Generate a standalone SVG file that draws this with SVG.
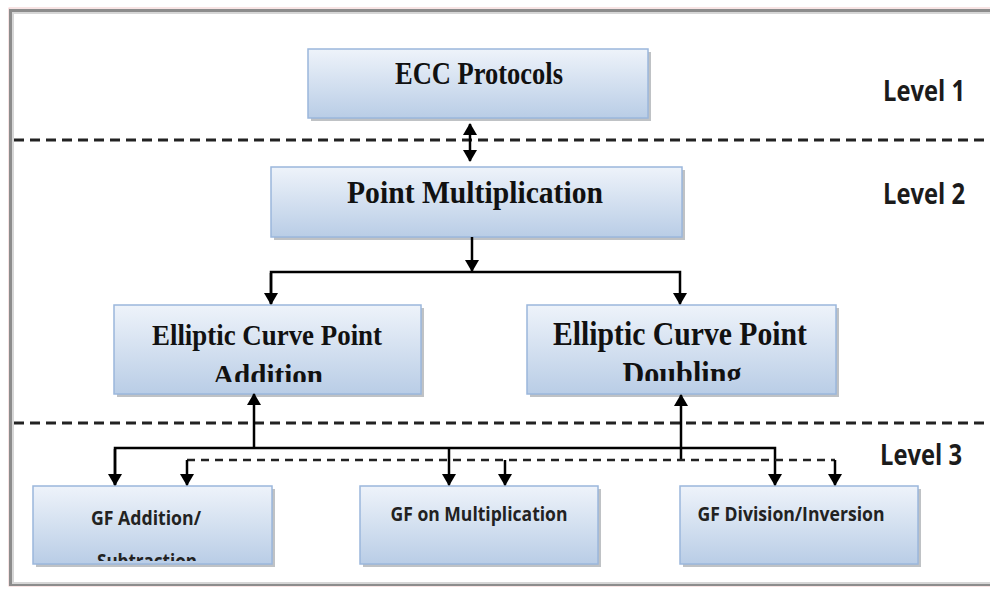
<svg xmlns="http://www.w3.org/2000/svg" width="990" height="589" viewBox="0 0 990 589">
<defs>
<linearGradient id="boxg" x1="0" y1="0" x2="0" y2="1">
<stop offset="0" stop-color="#eef3fa"/>
<stop offset="1" stop-color="#b9cde6"/>
</linearGradient>
<marker id="ah" viewBox="0 0 12 14" refX="11" refY="7" markerWidth="12" markerHeight="14" markerUnits="userSpaceOnUse" orient="auto">
<path d="M0,0 L12,7 L0,14 Z" fill="#000"/>
</marker>
<marker id="ahs" viewBox="0 0 12 14" refX="1" refY="7" markerWidth="12" markerHeight="14" markerUnits="userSpaceOnUse" orient="auto">
<path d="M12,0 L0,7 L12,14 Z" fill="#000"/>
</marker>
<clipPath id="c3"><rect x="114" y="305" width="307" height="77"/></clipPath>
<clipPath id="c4"><rect x="527" y="305" width="309" height="76"/></clipPath>
<clipPath id="c5"><rect x="33" y="486" width="239" height="75"/></clipPath>
</defs>
<style>
.box{fill:url(#boxg);stroke:#9bb7dc;stroke-width:1.5}
.sh{fill:#8a8f96;opacity:0.55}
.ser{font-family:"Liberation Serif",serif;font-weight:bold;fill:#111;text-anchor:middle}
.san{font-family:"Open Sans","Liberation Sans",sans-serif;font-weight:bold;fill:#222;text-anchor:middle}
.lvl{font-family:"Open Sans","Liberation Sans",sans-serif;font-weight:bold;fill:#1b1b1b}
.dash{stroke:#222;stroke-width:3;stroke-dasharray:10 6;fill:none}
.dash2{stroke:#222;stroke-width:2.5;stroke-dasharray:8 6;fill:none}
.ln{stroke:#000;stroke-width:2.5;fill:none}
</style>
<rect x="0" y="0" width="990" height="589" fill="#fff"/>
<rect x="9" y="8" width="1000" height="578" fill="none" stroke="#f2c9c9" stroke-width="1"/>
<rect x="10.5" y="10.5" width="1000" height="574" fill="none" stroke="#8c8c8c" stroke-width="3"/>
<rect x="13" y="13" width="1000" height="570" fill="none" stroke="#d6d6d6" stroke-width="2"/>

<g id="levels">
<path class="dash" d="M14,140 H990"/>
<path class="dash" d="M14,423 H990"/>
<text class="lvl" x="883" y="101" font-size="28" textLength="82" lengthAdjust="spacingAndGlyphs">Level 1</text>
<text class="lvl" x="883" y="204" font-size="28" textLength="82" lengthAdjust="spacingAndGlyphs">Level 2</text>
<text class="lvl" x="880" y="465" font-size="28" textLength="82" lengthAdjust="spacingAndGlyphs">Level 3</text>
</g>

<g id="n1">
<rect class="sh" x="311" y="52" width="340" height="69"/>
<rect class="box" x="308" y="49" width="340" height="69"/>
<text class="ser" x="479" y="84" font-size="31" textLength="168" lengthAdjust="spacingAndGlyphs">ECC Protocols</text>
</g>
<g id="n2">
<rect class="sh" x="274" y="170" width="411" height="70"/>
<rect class="box" x="271" y="167" width="411" height="70"/>
<text class="ser" x="475" y="203" font-size="32" textLength="256" lengthAdjust="spacingAndGlyphs">Point Multiplication</text>
</g>
<g id="n3">
<rect class="sh" x="117" y="308" width="307" height="89"/>
<rect class="box" x="114" y="305" width="307" height="89"/>
<g clip-path="url(#c3)">
<text class="ser" x="267" y="345" font-size="30" textLength="230" lengthAdjust="spacingAndGlyphs">Elliptic Curve Point</text>
<text class="ser" x="268" y="385" font-size="30" textLength="110" lengthAdjust="spacingAndGlyphs">Addition</text>
</g>
</g>
<g id="n4">
<rect class="sh" x="530" y="308" width="309" height="89"/>
<rect class="box" x="527" y="305" width="309" height="89"/>
<g clip-path="url(#c4)">
<text class="ser" x="680" y="345" font-size="33" textLength="254" lengthAdjust="spacingAndGlyphs">Elliptic Curve Point</text>
<text class="ser" x="682" y="385" font-size="33" textLength="119" lengthAdjust="spacingAndGlyphs">Doubling</text>
</g>
</g>
<g id="n5">
<rect class="sh" x="36" y="489" width="239" height="78"/>
<rect class="box" x="33" y="486" width="239" height="78"/>
<g clip-path="url(#c5)">
<text class="san" x="146" y="525" font-size="19" textLength="110" lengthAdjust="spacingAndGlyphs">GF Addition/</text>
<text class="san" x="147" y="568" font-size="19" textLength="100" lengthAdjust="spacingAndGlyphs">Subtraction</text>
</g>
</g>
<g id="n6">
<rect class="sh" x="363" y="489" width="238" height="78"/>
<rect class="box" x="360" y="486" width="238" height="78"/>
<text class="san" x="479" y="521" font-size="19" textLength="177" lengthAdjust="spacingAndGlyphs">GF on Multiplication</text>
</g>
<g id="n7">
<rect class="sh" x="683" y="489" width="238" height="78"/>
<rect class="box" x="680" y="486" width="238" height="78"/>
<text class="san" x="791" y="521" font-size="19" textLength="187" lengthAdjust="spacingAndGlyphs">GF Division/Inversion</text>
</g>

<g id="connectors">
<path class="ln" d="M470,124 V161" marker-start="url(#ahs)" marker-end="url(#ah)"/>
<path class="ln" d="M472,237 V271" marker-end="url(#ah)"/>
<path class="ln" d="M271,304 V272 H680 V304" marker-end="url(#ah)"/>
<path class="ln" d="M271,273 V304" marker-end="url(#ah)"/>
<path class="ln" d="M254,448 V394" marker-end="url(#ah)"/>
<path class="ln" d="M115,485 V448 H775 V485" marker-end="url(#ah)"/>
<path class="ln" d="M115,449 V485" marker-end="url(#ah)"/>
<path class="ln" d="M449,448 V485" marker-end="url(#ah)"/>
<path class="ln" d="M681,460 V395" marker-end="url(#ah)"/>
<path class="dash2" d="M187,460 H835"/>
<path class="ln" d="M187,460 V485" marker-end="url(#ah)"/>
<path class="ln" d="M505,460 V485" marker-end="url(#ah)"/>
<path class="ln" d="M835,460 V485" marker-end="url(#ah)"/>
</g>
</svg>
